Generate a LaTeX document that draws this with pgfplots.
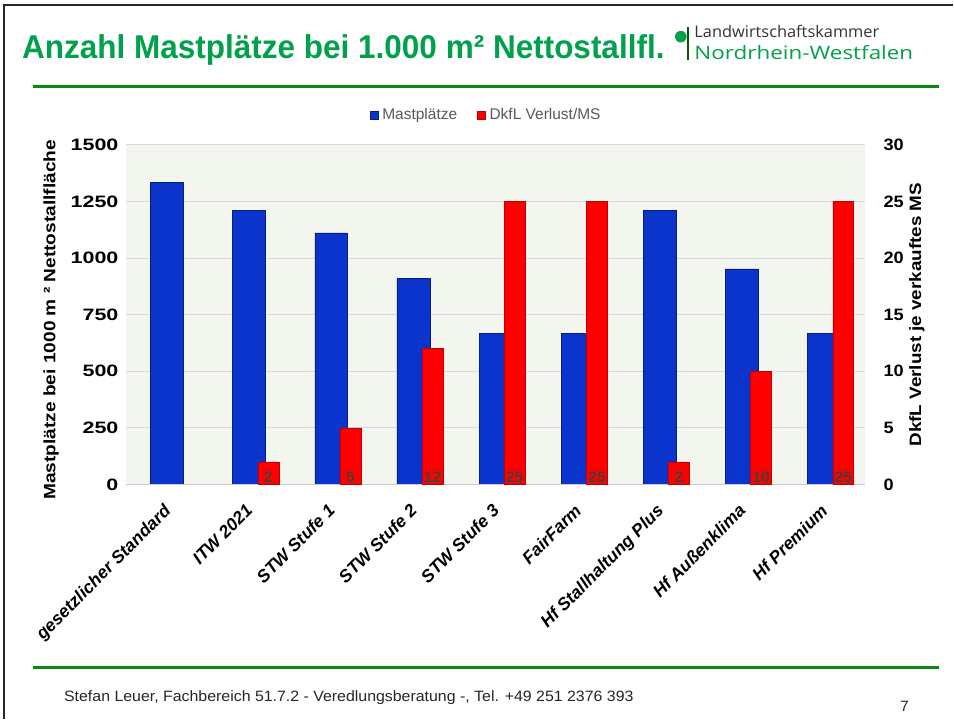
\documentclass[border=0pt]{standalone}
\usepackage{pgfplots}
\pgfplotsset{compat=1.18}
\usepackage{fontspec}
\setmainfont{Liberation Sans}
\newfontfamily\logofont{Open Sans}
\definecolor{barblue}{HTML}{0A34CC}
\definecolor{barred}{HTML}{FF0000}
\definecolor{titlegreen}{HTML}{00A04C}
\definecolor{linegreen}{HTML}{0A8A0A}
\definecolor{plotbg}{HTML}{F3F6EE}
\definecolor{legtext}{HTML}{595959}
\definecolor{lbltext}{HTML}{404040}

\pgfplotstableread{
x val
0 1333
1 1212
2 1111
3 909
4 667
5 667
6 1212
7 952
8 667
}\mastplaetze

\pgfplotstableread{
x val
1 2
2 5
3 12
4 25
5 25
6 2
7 10
8 25
}\verlust

\begin{document}
\begin{tikzpicture}
\fill[white] (0pt,0pt) rectangle (954pt,720pt);
\draw[black!85, line width=2pt] (4pt,0pt) -- (4pt,715pt) -- (954pt,715pt);
% title
\node[anchor=base west, text=titlegreen, inner sep=0pt, font=\fontsize{33}{33}\selectfont\bfseries] at (22pt,661pt)
  {\resizebox{643pt}{\height}{Anzahl Mastplätze bei 1.000 m² Nettostallfl.}};
% logo
\fill[titlegreen] (681.5pt,683.3pt) circle (5.8pt);
\draw[black!30!green!50!black, line width=2pt] (689pt,693pt) -- (689pt,660pt);
\node[anchor=base west, inner sep=0pt, text=black!80, font=\logofont\fontsize{16}{16}\selectfont] at (695pt,682.5pt)
  {\resizebox{185pt}{\height}{Landwirtschaftskammer}};
\node[anchor=base west, inner sep=0pt, text=titlegreen, font=\logofont\fontsize{18.5}{18.5}\selectfont] at (695pt,660pt)
  {\resizebox{219pt}{\height}{Nordrhein-Westfalen}};
% green lines
\draw[linegreen, line width=3pt] (33pt,633pt) -- (940pt,633pt);
\draw[linegreen, line width=3pt] (33pt,52pt) -- (940pt,52pt);
% footer
\node[anchor=base west, inner sep=0pt, text=black!85, font=\fontsize{15}{15}\selectfont] at (64pt,18pt)
  {\resizebox{570pt}{\height}{Stefan Leuer, Fachbereich 51.7.2 - Veredlungsberatung -, Tel. +49 251 2376 393}};
\node[anchor=base west, inner sep=0pt, text=black!85, font=\fontsize{15}{15}\selectfont] at (901pt,8pt) {7};

\begin{axis}[
  at={(126pt,235pt)}, anchor=south west, scale only axis,
  width=740pt, height=340pt,
  xmin=-0.5, xmax=8.5, ymin=0, ymax=1500,
  ytick={0,250,...,1500},
  axis background/.style={fill=plotbg},
  ymajorgrids, grid style={draw=black!15, line width=0.8pt},
  axis line style={draw=none},
  major tick length=0pt,
  xtick={0,...,8},
  xticklabels={gesetzlicher Standard, ITW 2021, STW Stufe 1, STW Stufe 2, STW Stufe 3, FairFarm, Hf Stallhaltung Plus, Hf Außenklima, Hf Premium},
  xticklabel style={rotate=45, anchor=north east, font=\fontsize{17.5}{17.5}\selectfont\bfseries\itshape, inner sep=2pt, yshift=-8pt, xshift=-14pt},
  yticklabel={\scalebox{1.3}[1]{\pgfmathprintnumber{\tick}}},
  yticklabel style={font=\fontsize{16.5}{16.5}\selectfont\bfseries, anchor=east, xshift=-4pt},
  /pgf/number format/assume math mode=true,
  /pgf/number format/1000 sep={},
  ylabel={\resizebox{360pt}{\height}{Mastplätze bei 1000 m ² Nettostallfläche}},
  ylabel style={at={(axis description cs:-0.101,0.485)}, anchor=center, font=\fontsize{16.5}{16.5}\selectfont\bfseries},
  ybar, bar width=0.40,
  clip=false,
]
\addplot[fill=barblue, draw=barblue!60!black, line width=0.5pt, bar shift=0] table[x=x, y=val] {\mastplaetze};
\draw[black!20, line width=0.8pt] (axis cs:-0.5,0) -- (axis cs:8.5,0);
\end{axis}

\begin{axis}[
  at={(126pt,235pt)}, anchor=south west, scale only axis,
  width=740pt, height=340pt,
  xmin=-0.5, xmax=8.5, ymin=0, ymax=30,
  ytick={0,5,...,30},
  axis y line*=right, hide x axis,
  axis line style={draw=none},
  major tick length=0pt,
  yticklabel={\scalebox{1.1}[1]{\pgfmathprintnumber{\tick}}},
  yticklabel style={font=\fontsize{16.5}{16.5}\selectfont\bfseries, anchor=west, xshift=15pt},
  /pgf/number format/assume math mode=true,
  ylabel={\resizebox{264pt}{\height}{DkfL Verlust je verkauftes MS}},
  ylabel style={at={(axis description cs:1.070,0.5)}, anchor=center, font=\fontsize{16.5}{16.5}\selectfont\bfseries},
  ybar, bar width=0.255,
  legend style={at={(axis description cs:0.4875,1.088)}, anchor=center, draw=none, fill=none,
    font=\fontsize{15.5}{15.5}\selectfont, text=legtext, legend columns=2,
    /tikz/every even column/.append style={column sep=18pt}},
  legend image code/.code={\draw[#1, line width=0.4pt] (0pt,-4pt) rectangle (8pt,4pt);},
  clip=false,
]
\addlegendimage{fill=barblue, draw=barblue!60!black}
\addlegendentry{\hspace{2pt}Mastplätze}
\addplot[fill=barred, draw=barred!75!black, line width=0.5pt, bar shift=0.234,
  visualization depends on={rawy \as \ry},
  nodes near coords,
  every node near coord/.append style={anchor=south, text=lbltext, font=\fontsize{15.5}{15.5}\selectfont\bfseries, inner sep=2pt, yshift={-\ry*11.3333pt}},
] table[x=x, y=val] {\verlust};
\addlegendentry{\hspace{2pt}DkfL Verlust/MS}
\end{axis}
\end{tikzpicture}
\end{document}
